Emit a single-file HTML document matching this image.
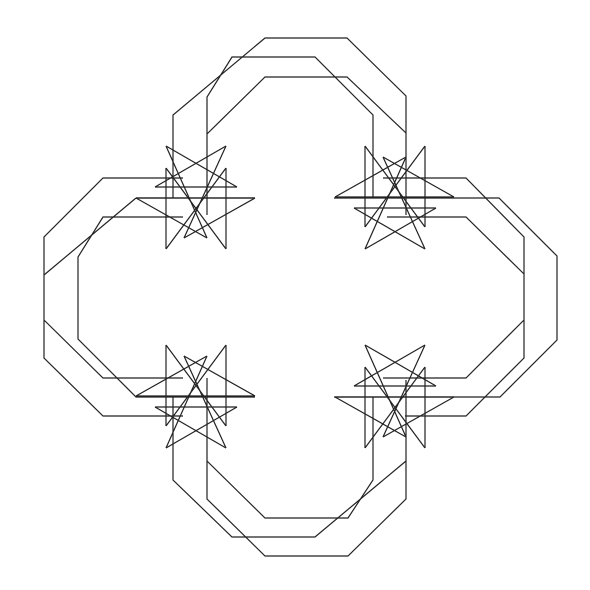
<!DOCTYPE html>
<html><head><meta charset="utf-8"><style>
html,body{margin:0;padding:0;background:#fff;}
svg{display:block;}
</style></head><body>
<svg id="fig" width="590" height="590" viewBox="0 0 590 590" xmlns="http://www.w3.org/2000/svg">
<g id="frame" fill="none" stroke="#222" stroke-width="1.2"></g>
<g id="stars" fill="none" stroke="#222" stroke-width="1.2"></g>
</svg>
<script>
const bandPaths = [
  [[173,198],[173,115],[265,38],[347,38],[406,96],[406,215]],
  [[207,215],[207,97],[232,57],[315,57],[373,115],[373,197]],
  [[207,134],[265,77],[347,77],[406,133]],
  [[383,178],[466,178],[524,237],[524,358],[466,416],[405,416]],
  [[334,198],[499,198],[557,256],[557,340],[500,397],[334,397]],
  [[387,217],[466,217],[524,274]],
  [[524,320],[466,378],[383,378]],
  [[373,397],[373,480],[348,518],[265,518],[207,461]],
  [[406,380],[406,499],[348,556],[265,556],[207,499],[207,378]],
  [[406,461],[315,537],[232,537],[173,480],[173,397]],
  [[183,178],[103,178],[44,237],[44,358],[103,416],[183,416]],
  [[183,217],[103,217],[78,257],[78,339],[136,397],[255,397]],
  [[136,198],[44,275]],
  [[44,320],[103,378],[183,378]],
  [[136,198],[255,198]]
];
const starSegments = [
  [[-30,-51.5],[11,40.5]],[[30,-51.5],[-12,40.5]],[[30,-51.5],[-41,-10.5]],
  [[-30,-51.5],[41,-10.5]],[[-41,-10.5],[41,-10.5]],
  [[-30,-29.5],[-30,51.5]],[[30,-29.5],[30,51.5]],
  [[-30,51.5],[30,-29.5]],[[30,51.5],[-30,-29.5]],
  [[-60,0.5],[59,0.5]],[[-60,0.5],[11,40.5]],[[59,0.5],[-12,40.5]]
];
const starCenters = [[196,197.5],[395,197.5],[196,396.5],[395,396.5]];
const starFlip = [1,-1,-1,1];
const NS='http://www.w3.org/2000/svg';
const frame=document.getElementById('frame');
bandPaths.forEach((p,i)=>{
  const el=document.createElementNS(NS,'polyline');
  el.setAttribute('points',p.map(q=>q.join(',')).join(' '));
  
  
  frame.appendChild(el);
});
const stars=document.getElementById('stars');
starCenters.forEach((c,k)=>{
  const g=document.createElementNS(NS,'g');
  
  
  starSegments.forEach(s=>{
    const l=document.createElementNS(NS,'line');
    l.setAttribute('x1',c[0]+s[0][0]);l.setAttribute('y1',c[1]+starFlip[k]*s[0][1]);
    l.setAttribute('x2',c[0]+s[1][0]);l.setAttribute('y2',c[1]+starFlip[k]*s[1][1]);
    
    
    g.appendChild(l);
  });
  stars.appendChild(g);
});
</script>
</body></html>
